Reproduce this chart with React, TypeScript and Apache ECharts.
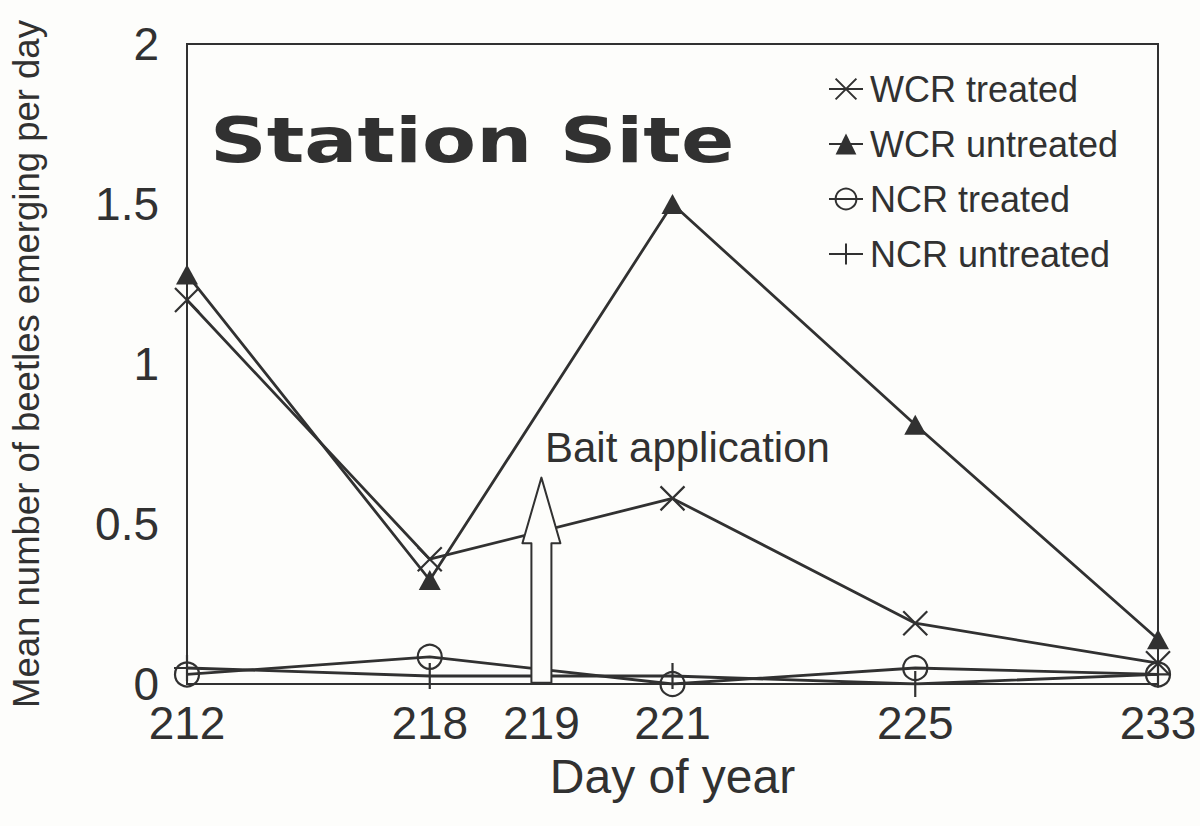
import React, { useEffect, useRef } from "react";
import * as echarts from "echarts";

// Categories (day of year) and bait application label
const days = ["212", "218", "221", "225", "233"];
const baitDayLabel = "219";
const baitDayPos = 1.46; // position between 218 and 221 on the category scale

// Series values (mean number of beetles emerging per day)
const wcrTreated = [1.2, 0.39, 0.58, 0.19, 0.065];
const wcrUntreated = [1.28, 0.325, 1.5, 0.81, 0.14];
const ncrTreated = [0.03, 0.085, 0.0, 0.05, 0.03];
const ncrUntreated = [0.05, 0.025, 0.025, 0.0, 0.03];

// Tick labels
const yTicks = [0, 0.5, 1, 1.5, 2];
const xTickPositions = [0, 1, baitDayPos, 2, 3, 4];
const xTickLabels = [days[0], days[1], baitDayLabel, days[2], days[3], days[4]];

const INK = "#313131";
const FONT = "'Liberation Sans', Arial, sans-serif";

const crossPath = "path://M0,0L10,10M10,0L0,10";
const plusPath = "path://M5,0L5,10M0,5L10,5";

function toData(vals: number[]) {
  return vals.map((v, i) => [i, v]);
}

export default function App() {
  const ref = useRef<HTMLDivElement>(null);

  useEffect(() => {
    if (!ref.current) return;
    const chart = echarts.init(ref.current, null, { renderer: "svg" });

    const lineStyle = { color: INK, width: 2.8 };
    const strokeItem = {
      color: "rgba(0,0,0,0)",
      borderColor: INK,
      borderWidth: 2.2,
    };

    chart.setOption({
      animation: false,
      backgroundColor: "#fdfdfb",
      grid: {
        left: 184,
        right: 42,
        top: 44,
        bottom: 142,
        show: true,
        borderColor: INK,
        borderWidth: 2,
        backgroundColor: "transparent",
      },
      legend: {
        orient: "vertical",
        left: 828,
        top: 71,
        padding: 0,
        itemWidth: 34,
        itemHeight: 26,
        itemGap: 19,
        textStyle: {
          fontFamily: FONT,
          fontSize: 36,
          lineHeight: 36,
          color: INK,
          padding: [0, 0, 0, 2],
        },
        data: ["WCR treated", "WCR untreated", "NCR treated", "NCR untreated"],
      },
      xAxis: {
        type: "value",
        min: 0,
        max: 4,
        axisLine: { show: true, lineStyle: { color: INK, width: 2 } },
        axisTick: { show: false },
        splitLine: { show: false },
        axisLabel: {
          customValues: xTickPositions,
          formatter: (v: number) => {
            const i = xTickPositions.findIndex((p) => Math.abs(p - v) < 1e-6);
            return i >= 0 ? xTickLabels[i] : "";
          },
          fontFamily: FONT,
          fontSize: 46,
          lineHeight: 30,
          color: INK,
          margin: 24,
        },
        name: "Day of year",
        nameLocation: "middle",
        nameGap: 68,
        nameTextStyle: {
          fontFamily: FONT,
          fontSize: 48,
          color: INK,
          verticalAlign: "top",
        },
      },
      yAxis: {
        type: "value",
        min: 0,
        max: 2,
        interval: 0.5,
        axisLine: { show: true, lineStyle: { color: INK, width: 2 } },
        axisTick: { show: false },
        splitLine: { show: false },
        axisLabel: {
          formatter: (v: number) => {
            const t = yTicks.find((y) => Math.abs(y - v) < 1e-6);
            return t === undefined ? "" : String(t);
          },
          fontFamily: FONT,
          fontSize: 46,
          lineHeight: 30,
          color: INK,
          margin: 28,
        },
        name: "Mean number of beetles emerging per day",
        nameLocation: "middle",
        nameGap: 142,
        nameTextStyle: {
          fontFamily: FONT,
          fontSize: 36.5,
          color: INK,
        },
      },
      series: [
        {
          name: "WCR treated",
          type: "line",
          data: toData(wcrTreated),
          symbol: crossPath,
          symbolSize: 24,
          lineStyle,
          itemStyle: strokeItem,
          z: 3,
        },
        {
          name: "WCR untreated",
          type: "line",
          data: toData(wcrUntreated),
          symbol: "triangle",
          symbolSize: [22, 20],
          lineStyle,
          itemStyle: { color: INK },
          z: 3,
        },
        {
          name: "NCR treated",
          type: "line",
          data: toData(ncrTreated),
          symbol: "circle",
          symbolSize: 24,
          lineStyle,
          itemStyle: strokeItem,
          z: 3,
        },
        {
          name: "NCR untreated",
          type: "line",
          data: toData(ncrUntreated),
          symbol: plusPath,
          symbolSize: 26,
          lineStyle,
          itemStyle: strokeItem,
          z: 3,
        },
      ],
    });

    const px = (x: number, y: number) =>
      chart.convertToPixel({ gridIndex: 0 }, [x, y]) as number[];
    const tip = px(baitDayPos, 0.645);
    const head = px(baitDayPos, 0.44);
    const bottom = px(baitDayPos, 0.004);
    const cx = tip[0];

    chart.setOption({
      graphic: [
        {
          type: "polygon",
          z: 100,
          shape: {
            points: [
              [cx - 10, bottom[1]],
              [cx - 10, head[1]],
              [cx - 19, head[1]],
              [cx, tip[1]],
              [cx + 19, head[1]],
              [cx + 10, head[1]],
              [cx + 10, bottom[1]],
            ],
          },
          style: { fill: "#fdfdfb", stroke: INK, lineWidth: 2, lineJoin: "round" },
        },
        {
          type: "text",
          z: 100,
          x: 545,
          y: 447,
          style: {
            text: "Bait application",
            fontFamily: FONT,
            fontSize: 42,
            fill: INK,
            verticalAlign: "middle",
            align: "left",
          },
        },
        {
          type: "text",
          z: 100,
          x: 210,
          y: 141,
          scaleX: 1.27,
          style: {
            text: "Station Site",
            fontFamily: "'DejaVu Sans', sans-serif",
            fontWeight: "bold",
            fontSize: 62,
            fill: INK,
            verticalAlign: "middle",
            align: "left",
          },
        },
      ],
    });

    return () => chart.dispose();
  }, []);

  return (
    <div
      ref={ref}
      style={{ position: "absolute", left: 0, top: 0, width: 1200, height: 826 }}
    />
  );
}
